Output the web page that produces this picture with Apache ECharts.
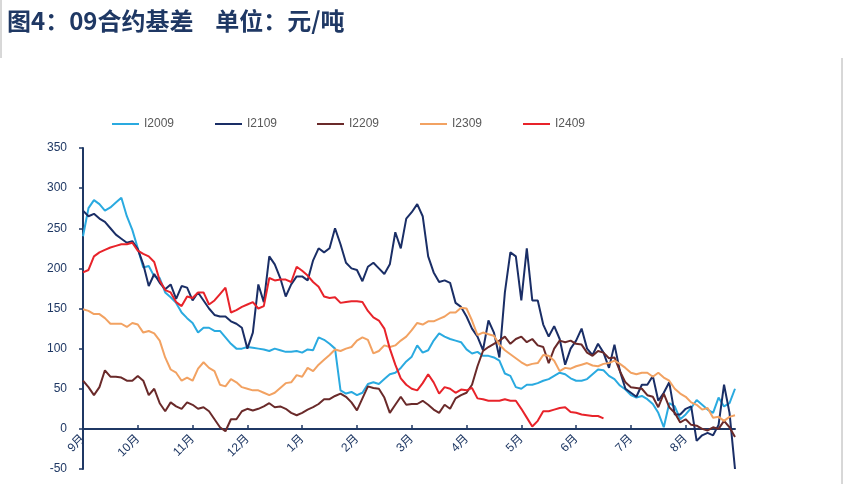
<!DOCTYPE html>
<html>
<head>
<meta charset="utf-8">
<script src="https://cdn.jsdelivr.net/npm/echarts@6/dist/echarts.min.js"></script>
<style>
html,body{margin:0;padding:0;background:#fff;}
#c{width:849px;height:484px;}
</style>
</head>
<body>
<div id="c"></div>
<script>
// month tick labels (10 sample slots per month)
var months = ['9月','10月','11月','12月','1月','2月','3月','4月','5月','6月','7月','8月'];
var slotsPerMonth = 10;

var s2009 = [240,275,285,280,272,276,282,288,265,248,
225,201,203,190,188,170,164,157,145,138,
132,120,126,126,122,122,114,106,100,100,
102,101,100,99,97,100,98,96,96,97,
95,99,98,114,111,106,100,48,44,46,
42,45,56,58,56,62,68,70,76,84,
90,104,95,98,110,119,115,112,110,108,
99,94,96,91,91,89,85,69,66,52,
50,55,55,57,60,62,66,70,68,63,
60,60,62,68,74,73,66,62,54,49,
42,39,41,37,31,20,2,32,28,12,
18,26,36,30,24,20,39,28,32,50];

var s2109 = [272,265,268,262,258,250,242,237,232,234,
224,205,178,193,182,174,180,162,178,176,
160,170,160,150,142,140,140,134,131,126,
100,120,180,158,215,205,188,165,180,190,
190,185,210,225,220,225,250,230,207,200,
198,184,202,207,200,193,205,245,225,262,
270,280,265,215,195,183,185,182,157,152,
140,125,115,98,135,120,89,170,220,215,
160,225,160,160,130,115,128,112,80,100,
110,125,100,92,106,95,76,105,72,50,
45,40,55,55,66,35,45,58,18,18,
25,28,-15,-8,-5,-8,5,55,20,-50];

var s2209 = [60,52,42,52,73,65,65,64,60,60,
66,60,42,50,32,22,33,28,25,33,
30,25,27,22,12,2,-3,12,12,22,
25,23,25,28,32,27,28,25,20,17,
20,24,27,31,37,37,41,44,40,33,
23,38,53,51,50,39,20,30,40,30,
31,31,35,30,24,20,30,25,38,42,
45,55,78,97,102,106,110,115,106,112,
115,108,112,104,102,82,100,110,108,110,
106,105,95,91,97,95,88,89,72,58,
52,51,50,42,40,27,44,27,20,8,
12,5,4,0,-2,2,0,10,2,-10];

var s2309 = [149,147,143,143,138,131,131,131,127,132,
130,120,122,119,110,89,74,70,60,64,
60,75,83,76,72,55,53,62,58,52,
50,48,48,45,42,45,51,57,58,67,
65,76,72,80,86,92,99,97,100,102,
110,114,111,94,97,104,102,104,110,115,
123,132,130,134,134,137,140,145,145,151,
150,135,117,120,118,116,105,98,93,88,
83,79,81,82,92,91,85,72,76,75,
78,80,82,79,78,81,82,85,81,76,
70,68,70,70,65,70,64,60,50,44,
40,33,30,24,26,14,15,10,15,17];

var s2409 = [195,198,215,220,223,226,228,230,230,232,
222,218,215,208,185,173,170,158,153,165,
163,170,170,155,160,168,176,145,148,152,
155,158,150,153,188,185,186,186,183,202,
197,191,183,177,165,163,164,157,158,159,
159,158,147,139,135,125,100,80,63,55,
50,48,57,68,58,44,52,50,45,49,
48,51,38,37,35,35,35,37,35,35,
25,14,3,10,22,22,24,26,27,21,
20,18,17,16,16,13];

var seriesNames = ['I2009','I2109','I2209','I2309','I2409'];
var seriesColors = ['#2AAAE0','#1A2E66','#6A2A2A','#F2A262','#E8232A'];
var seriesData = [s2009, s2109, s2209, s2309, s2409];

var categories = [];
months.forEach(function(m){
  for (var k = 0; k < slotsPerMonth; k++) categories.push(m + '_' + k);
});

var navy = '#1F3864';
var legendLefts = [107, 210, 312, 415, 518];

var chart = echarts.init(document.getElementById('c'), null, {renderer:'canvas'});
chart.setOption({
  animation: false,
  backgroundColor: '#fff',
  title: {
    text: '图4：09合约基差    单位：元/吨',
    left: 2, top: 4,
    textStyle: {color: navy, fontSize: 24, fontWeight: 'bold', fontFamily: 'Noto Sans CJK SC'}
  },
  legend: seriesNames.map(function(n, i){
    return {
      data: [n], left: legendLefts[i], top: 113,
      icon: 'rect', itemWidth: 27, itemHeight: 2, itemGap: 0,
      textStyle: {color: '#595959', fontSize: 12, fontFamily: 'Liberation Sans'}
    };
  }),
  grid: {left: 83, right: 114, top: 148, bottom: 15, containLabel: false, outerBoundsMode: 'none'},
  xAxis: {
    type: 'category', data: categories, boundaryGap: false,
    position: 'bottom', offset: -40,
    axisLine: {onZero: false, lineStyle: {color: navy, width: 2}},
    axisTick: {inside: true, length: 4, lineStyle: {color: navy, width: 1.5},
      interval: function(idx){ return idx % slotsPerMonth === 0; }},
    axisLabel: {
      interval: function(idx){ return idx % slotsPerMonth === 0; },
      formatter: function(v){ return v.split('_')[0]; },
      rotate: 45, color: navy, fontSize: 12, margin: 8,
      fontFamily: 'Liberation Sans, Noto Sans CJK SC'
    },
    splitLine: {show: false}
  },
  yAxis: {
    type: 'value', min: -50, max: 350, interval: 50,
    axisLine: {show: true, onZero: false, lineStyle: {color: navy, width: 2}},
    axisTick: {show: true, length: 4, lineStyle: {color: navy, width: 1.5}},
    axisLabel: {color: navy, fontSize: 12, margin: 16, fontFamily: 'Liberation Sans'},
    splitLine: {show: false}
  },
  graphic: [
    {type: 'line', shape: {x1: 842, y1: 58, x2: 842, y2: 484}, style: {stroke: '#b0b0b0', lineWidth: 1}},
    {type: 'line', shape: {x1: 1, y1: 0, x2: 1, y2: 58}, style: {stroke: '#b0b0b0', lineWidth: 1}}
  ],
  series: seriesNames.map(function(n, i){
    return {
      name: n, type: 'line', data: seriesData[i], showSymbol: false, symbol: 'none',
      lineStyle: {color: seriesColors[i], width: 2}, itemStyle: {color: seriesColors[i]}
    };
  })
});
</script>
</body>
</html>
